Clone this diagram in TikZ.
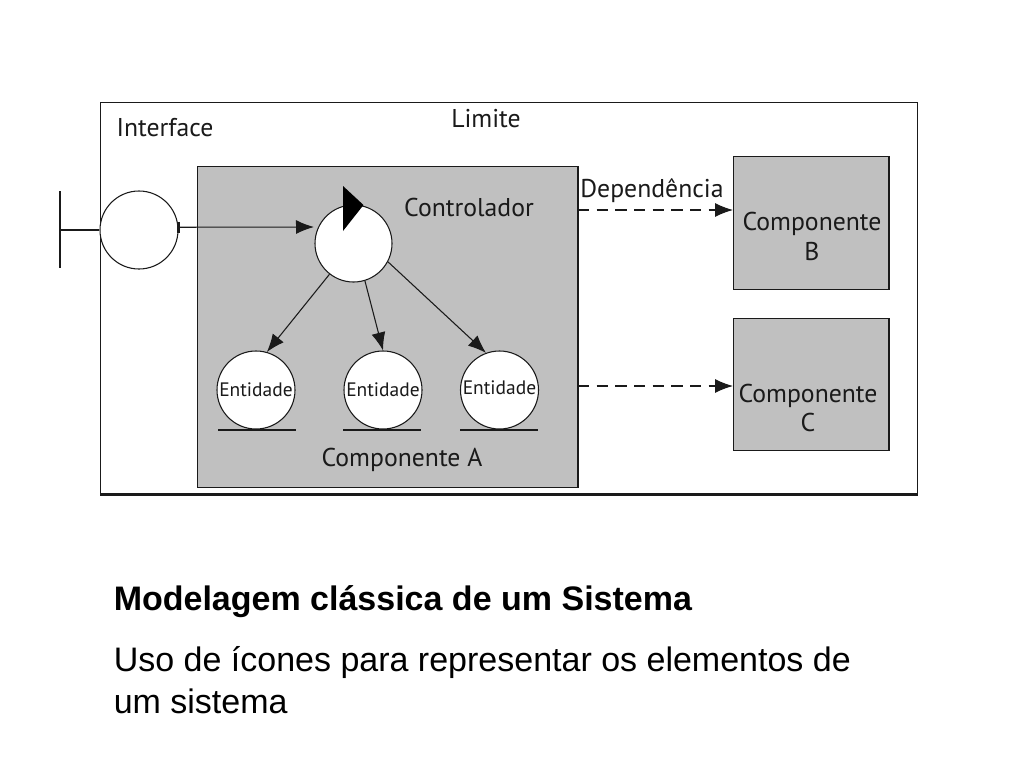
\documentclass[tikz,border=0pt]{standalone}
\usepackage{fontspec}
\setmainfont{Liberation Sans}
\newfontfamily\diagfont{PT Sans}
\usetikzlibrary{arrows.meta}
\definecolor{panel}{HTML}{C0C0C0}
\definecolor{ink}{HTML}{1A1A1A}
\tikzset{
  panelbox/.style={draw=ink,fill=panel,line width=0.9pt,inner sep=0pt,anchor=north west},
  roundel/.style={circle,draw=ink,fill=white,line width=0.8pt,inner sep=0pt,minimum size=#1*0.75pt},
  lbl/.style={font=\diagfont\fontsize{19.3pt}{22pt}\selectfont,text=ink,inner sep=0pt,align=center},
  entlbl/.style={font=\diagfont\fontsize{14.6pt}{16pt}\selectfont,text=ink,inner sep=0pt},
  link/.style={draw=ink,line width=0.8pt,-{Latex[length=13.5pt,width=10.5pt]}},
  deplink/.style={link,dash pattern=on 8.5pt off 5.5pt},
  capt/.style={font=\fontsize{25.5pt}{31.5pt}\selectfont,text=black,inner sep=0pt,anchor=base west,align=left}
}
\begin{document}
\begin{tikzpicture}[x=0.75pt,y=-0.75pt]
\useasboundingbox (0,0) rectangle (1024,768);
% boundary
\node[draw=ink,fill=white,line width=0.9pt,inner sep=0pt,anchor=north west,minimum width=817*0.75pt,minimum height=391*0.75pt] (limit) at (100,102) {};
\draw[ink,line width=2pt] (limit.south west) -- (limit.south east);
% components
\node[panelbox,minimum width=380*0.75pt,minimum height=321*0.75pt] (compA) at (197,166) {};
\draw[ink,line width=1.4pt] (compA.north east) -- (compA.south east);
\node[panelbox,minimum width=155*0.75pt,minimum height=133*0.75pt] (compB) at (733,156) {};
\draw[ink,line width=1.4pt] (compB.north east) -- (compB.south east);
\node[panelbox,minimum width=155*0.75pt,minimum height=132*0.75pt] (compC) at (733,318) {};
\draw[ink,line width=1.4pt] (compC.north east) -- (compC.south east);
% labels
\node[lbl] (tInterface) at (165,127.5) {Interface};
\node[lbl] (tLimite) at (486,118.5) {Limite};
\node[lbl] (tControlador) at (469,207) {Controlador};
\node[lbl] (tDep) at (652,190.5) {Dependência};
\node[lbl] (tCompA) at (402,459.5) {Componente A};
\node[lbl] (tCompB) at (812,236.5) {Componente\\B};
\node[lbl] (tCompC) at (808,408) {Componente\\C};
% interface
\node[roundel=78] (iface) at (139,230) {};
\coordinate (barTop) at (60,191);
\coordinate (barBot) at (60,268);
\coordinate (barMid) at (60,230);
\draw[ink,line width=0.8pt] (barTop) -- (barBot);
\draw[ink,line width=1.8pt] (barMid) -- (iface.west);
% controller
\node[roundel=77] (ctrl) at (353.5,243.5) {};
\fill[black] (343,186) -- (363.5,205) -- (343,231) -- cycle;
% entities
\node[roundel=78] (ent1) at (256,390) {};
\node[roundel=78] (ent2) at (383,390) {};
\node[roundel=78] (ent3) at (499.5,390) {};
\node[entlbl] (tEnt1) at (256,389.5) {Entidade};
\node[entlbl] (tEnt2) at (383,390) {Entidade};
\node[entlbl] (tEnt3) at (499.5,387.5) {Entidade};
\coordinate (g1a) at (218,430); \coordinate (g1b) at (296,430);
\coordinate (g2a) at (343,430); \coordinate (g2b) at (421,430);
\coordinate (g3a) at (460,430); \coordinate (g3b) at (538,430);
\draw[ink,line width=0.8pt] (g1a) -- (g1b) (g2a) -- (g2b) (g3a) -- (g3b);
% connectors
\coordinate (ctrlIn) at (314,227);
\draw[ink,line width=1.8pt] ([yshift=4pt]iface.4) -- ([yshift=-4pt]iface.4);
\draw[link] (iface.4) -- (ctrlIn);
\draw[link] (ctrl.-128) -- (ent1.74);
\draw[link] (ctrl.-73) -- (ent2.90);
\draw[link] (ctrl.-28) -- (ent3.110);
\coordinate (depB) at (578,210);
\coordinate (depC) at (578,386);
\draw[deplink] (depB) -- (compB.west |- depB);
\draw[deplink] (depC) -- (compC.west |- depC);
% caption
\node[capt,font=\bfseries\fontsize{25.5pt}{31.5pt}\selectfont] (cap1) at (113.5,610.5) {Modelagem clássica de um Sistema};
\node[capt] (cap2) at (113.5,713.5) {Uso de ícones para representar os elementos de\\um sistema};
\end{tikzpicture}
\end{document}
